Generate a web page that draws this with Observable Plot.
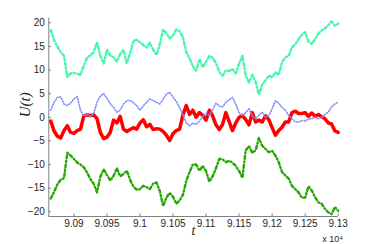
<!DOCTYPE html>
<html>
<head>
<meta charset="utf-8">
<script src="https://cdn.jsdelivr.net/npm/d3@7"></script>
<script src="https://cdn.jsdelivr.net/npm/@observablehq/plot@0.6"></script>
<style>
  html, body { margin: 0; padding: 0; background: #fff; }
  #chart { width: 374px; height: 244px; }
</style>
</head>
<body>
<div id="chart"></div>
<script>
// time samples (t)
const tValues = [
  90865, 90870, 90875, 90880, 90885, 90890, 90895, 90900, 90905, 90910,
  90915, 90920, 90925, 90930, 90935, 90940, 90945, 90950, 90955, 90960,
  90965, 90970, 90975, 90980, 90985, 90990, 90995, 91000, 91005, 91010,
  91015, 91020, 91025, 91030, 91035, 91040, 91045, 91050, 91055, 91060,
  91065, 91070, 91075, 91080, 91085, 91090, 91095, 91100, 91105, 91110,
  91115, 91120, 91125, 91130, 91135, 91140, 91145, 91150, 91155, 91160,
  91165, 91170, 91175, 91180, 91185, 91190, 91195, 91200, 91205, 91210,
  91215, 91220, 91225, 91230, 91235, 91240, 91245, 91250, 91255, 91260,
  91265, 91270, 91275, 91280, 91285, 91290, 91295, 91300
];

// top series (aquamarine, dash-dot)
const uAqua = [
  18.5, 16.3, 15.0, 13.8, 13.0, 8.5, 9.3, 9.4, 9.2, 9.0,
  11.0, 12.6, 13.1, 13.8, 15.9, 13.0, 11.4, 14.3, 13.1, 12.7,
  11.8, 13.4, 14.3, 11.5, 13.5, 16.2, 16.4, 15.9, 15.3, 14.8,
  15.8, 14.3, 13.2, 15.5, 18.6, 17.8, 16.7, 17.3, 18.6, 18.2,
  17.0, 13.8, 12.5, 10.8, 9.8, 12.3, 10.6, 11.8, 13.0, 12.6,
  11.5, 9.6, 8.8, 9.9, 9.8, 10.2, 9.3, 11.3, 13.0, 8.8,
  7.4, 9.0, 7.5, 4.8, 7.0, 7.8, 8.8, 8.5, 9.5, 9.0,
  11.7, 12.7, 13.0, 14.8, 15.5, 16.5, 17.5, 18.0, 16.0, 15.5,
  16.6, 17.7, 18.4, 18.8, 19.5, 20.3, 19.4, 19.8
];

// second series (blue, dotted)
const uBlue = [
  1.5, 3.2, 4.2, 4.3, 2.8, 2.5, 3.0, 3.9, 4.4, 1.5,
  0.3, 0.6, 0.2, 0.8, 3.2, 4.5, 5.0, 4.0, 2.9, 2.1,
  1.1, 1.5, 2.8, 3.5, 3.6, 3.1, 2.5, 1.5, 2.4, 3.2,
  3.9, 3.5, 3.2, 2.8, 3.8, 4.9, 5.3, 4.3, 3.3, 2.0,
  0.6, -1.2, -1.8, -1.2, -1.5, -0.8, 0.2, 0.8, 0.4, 1.6,
  3.0, 2.4, 2.2, 3.2, 3.7, 4.2, 2.8, 1.0, 0.3, 1.0,
  1.8, 0.3, -0.3, 0.4, 1.1, 0.0, 0.4, 1.8, 3.5, 3.0,
  2.1, 1.5, 0.4, -0.3, -1.0, -1.0, -0.7, -0.8, -0.4, -0.3,
  0.0, -0.3, 0.0, 0.6, 1.1, 2.2, 2.8, 3.3
];

// third series (red, solid)
const uRed = [
  -0.8, -2.9, -4.0, -4.4, -2.8, -1.8, -3.2, -3.4, -2.8, -2.5,
  0.3, 0.5, 0.4, 0.5, -0.3, -3.2, -4.5, -4.2, -3.2, -0.6,
  -1.2, 0.2, -2.5, -3.0, -2.6, -2.2, -2.5, -1.2, -0.5, -2.0,
  -1.5, -2.6, -2.4, -2.5, -3.0, -3.8, -4.9, -3.5, -2.8, -2.5,
  0.5, 2.5, 0.6, 1.5, 0.0, 1.0, 0.4, -0.6, 1.5, 0.3,
  -1.6, -2.6, -1.5, 1.0, -0.9, -2.8, -1.2, 0.0, 0.4, -0.5,
  -1.6, 1.0, -1.0, -0.6, -1.0, 0.3, -0.5, -2.2, -3.8, -2.8,
  -2.1, -1.0, -1.0, 1.0, 1.3, 0.8, 0.8, 1.0, 0.2, 0.9,
  0.2, 0.6, 0.1, -0.3, -1.2, -1.4, -2.9, -3.2
];

// bottom series (green, dash-dot)
const uGreen = [
  -17.2, -15.8, -14.2, -13.2, -12.9, -7.5, -8.1, -8.8, -9.6, -10.0,
  -10.6, -11.7, -13.1, -14.1, -15.9, -12.6, -11.0, -12.2, -13.4, -12.4,
  -10.8, -12.5, -12.0, -11.3, -13.2, -14.7, -15.3, -15.2, -14.5, -14.8,
  -15.2, -14.0, -13.8, -15.6, -18.8, -17.0, -16.0, -16.8, -18.3, -17.6,
  -16.4, -13.5, -11.6, -10.0, -10.0, -11.3, -10.3, -11.4, -13.6, -12.5,
  -10.8, -8.8, -8.9, -9.5, -9.2, -9.6, -10.3, -11.4, -12.8, -7.0,
  -6.1, -7.5, -7.0, -4.4, -6.0, -6.7, -7.4, -7.1, -8.1, -9.5,
  -11.6, -12.3, -13.0, -14.5, -15.2, -15.9, -17.0, -17.0, -14.6, -15.5,
  -16.9, -18.0, -18.3, -19.4, -20.1, -20.5, -19.0, -19.8
];

// axis ticks
const xTicks = [90900, 90950, 91000, 91050, 91100, 91150, 91200, 91250, 91300];
const yTicks = [-20, -15, -10, -5, 0, 5, 10, 15, 20];

const xDomain = [90862, 91300];
const yDomain = [-21, 21];

const axisColor = "#808080";
const textColor = "#262626";
const fontFamily = "'Liberation Sans', Arial, Helvetica, sans-serif";
const serif = "'Liberation Serif', 'DejaVu Serif', serif";

const fmtX = d => String(+(d / 1e4).toFixed(4));

const chart = Plot.plot({
  width: 374,
  height: 244,
  marginTop: 17.6,
  marginBottom: 28,
  marginLeft: 48.3,
  marginRight: 36.3,
  style: { background: "#fff", fontFamily, fontSize: "10px", color: textColor },
  x: { type: "linear", domain: xDomain, ticks: xTicks },
  y: { type: "linear", domain: yDomain, ticks: yTicks },
  marks: [
    // axis lines
    Plot.ruleY([yDomain[0]], { stroke: axisColor, strokeWidth: 1 }),
    Plot.ruleX([xDomain[0]], { stroke: axisColor, strokeWidth: 1 }),
    // inward ticks
    Plot.ruleX(xTicks, { x: d => d, y1: yDomain[0], y2: yDomain[0] + 0.55, stroke: axisColor, strokeWidth: 1 }),
    Plot.ruleY(yTicks, { y: d => d, x1: xDomain[0], x2: xDomain[0] + 4, stroke: axisColor, strokeWidth: 1 }),
    Plot.axisX({ ticks: xTicks, tickSize: 0, tickPadding: 3, tickFormat: fmtX, label: null, fill: textColor, fontSize: 10 }),
    Plot.axisY({ ticks: yTicks, tickSize: 0, tickPadding: 4, label: null, fill: textColor, fontSize: 10 }),
    // series
    Plot.lineY(uAqua, { x: tValues, stroke: "#40f8ac", strokeWidth: 2.4, strokeDasharray: "3 2.5 1 2.5" }),
    Plot.lineY(uRed, { x: tValues, stroke: "#ff0000", strokeWidth: 3.5 }),
    Plot.lineY(uBlue, { x: tValues, stroke: "#7f8cff", strokeWidth: 1.6, strokeDasharray: "1 1.8" }),
    Plot.lineY(uGreen, { x: tValues, stroke: "#22a800", strokeWidth: 2.4, strokeDasharray: "3 2.5 1 2.5" }),
    // labels
    Plot.text(["t"], { frameAnchor: "bottom", dy: 18, fontSize: 14, fontStyle: "italic", fontFamily: serif, fill: textColor }),
    Plot.text(["x 10\u2074"], { frameAnchor: "bottom-right", textAnchor: "end", dx: 5, dy: 25, fontSize: 9, fill: textColor }),
    Plot.text(["U(t)"], { frameAnchor: "left", rotate: -90, dx: -24, fontSize: 15, fontStyle: "italic", fontFamily: serif, fill: textColor })
  ]
});

document.getElementById("chart").appendChild(chart);
</script>
</body>
</html>
